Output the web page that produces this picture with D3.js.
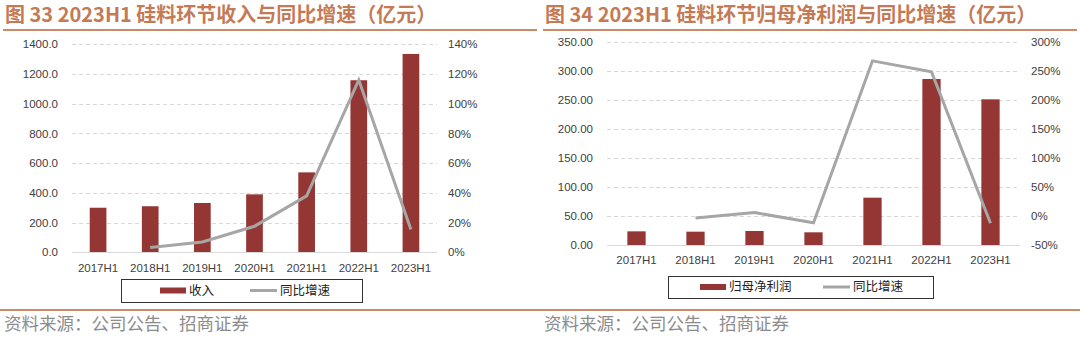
<!DOCTYPE html>
<html>
<head>
<meta charset="utf-8">
<script src="https://cdn.jsdelivr.net/npm/d3@7"></script>
<style>
  html, body { margin: 0; padding: 0; background: #fff; }
  svg { display: block; }
</style>
</head>
<body>
<svg id="chart" width="1080" height="337"></svg>
<script>
// Shared categories
const periods = ["2017H1", "2018H1", "2019H1", "2020H1", "2021H1", "2022H1", "2023H1"];

// Panel 33: revenue (亿元) and YoY growth (%)
const revenue = [300, 310, 332, 390, 538, 1158, 1335];
const revenueGrowth = [null, 3.3, 7.0, 17.5, 38.0, 116.0, 15.3];
const revenueTicks = [0, 200, 400, 600, 800, 1000, 1200, 1400];
const revenueGrowthTicks = [0, 20, 40, 60, 80, 100, 120, 140];

// Panel 34: net profit attributable to parent (亿元) and YoY growth (%)
const netProfit = [23.6, 23.0, 24.2, 21.9, 81.7, 286.6, 251.5];
const profitGrowth = [null, -3.5, 6.0, -11.5, 268.0, 249.0, -12.5];
const profitTicks = [0, 50, 100, 150, 200, 250, 300, 350];
const profitGrowthTicks = [-50, 0, 50, 100, 150, 200, 250, 300];

const BAR = "#943634";
const LINE = "#a6a6a6";
const TITLE = "#c47a55";
const RULE = "#cf8a68";
const GRID = "#d9d9d9";
const TXT = "#404040";
const CJK = "'Noto Sans CJK SC', 'Noto Sans', sans-serif";
const LAT = "'Liberation Sans', Arial, sans-serif";

const svg = d3.select("#chart");

function panel(cfg) {
  const g = svg.append("g");

  // Title and rules
  g.append("text")
    .attr("x", cfg.x0 + 5).attr("y", 22)
    .attr("font-family", CJK).attr("font-weight", 700)
    .attr("font-size", 20).attr("fill", TITLE)
    .text(cfg.title);
  g.append("line")
    .attr("x1", cfg.x0 + 3).attr("x2", cfg.x0 + 537)
    .attr("y1", 30).attr("y2", 30)
    .attr("stroke", RULE).attr("stroke-width", 2);
  g.append("line")
    .attr("x1", cfg.x0).attr("x2", cfg.x0 + 540)
    .attr("y1", 310).attr("y2", 310)
    .attr("stroke", RULE).attr("stroke-width", 2);
  g.append("text")
    .attr("x", cfg.x0 + 4).attr("y", 330)
    .attr("font-family", CJK).attr("font-size", 17.5).attr("fill", "#8c8c8c")
    .text("资料来源：公司公告、招商证券");

  const x = d3.scaleBand().domain(periods).range([cfg.left, cfg.right]);
  const y = d3.scaleLinear().domain(cfg.yDomain).range([cfg.bottom, cfg.top]);
  const y2 = d3.scaleLinear().domain(cfg.y2Domain).range([cfg.bottom, cfg.top]);

  // Dashed gridlines
  g.append("g").selectAll("line")
    .data(cfg.yTicks.filter(t => t !== cfg.yDomain[0]))
    .join("line")
    .attr("x1", cfg.left).attr("x2", cfg.right)
    .attr("y1", d => Math.round(y(d)) + 0.5).attr("y2", d => Math.round(y(d)) + 0.5)
    .attr("stroke", GRID).attr("stroke-width", 1).attr("stroke-dasharray", "4,3");

  // Left axis
  const yAxis = d3.axisLeft(y).tickValues(cfg.yTicks).tickFormat(cfg.yFmt).tickSize(0).tickPadding(0);
  const ga = g.append("g").attr("transform", `translate(${cfg.left - 14},0)`).call(yAxis);
  ga.select(".domain").remove();
  ga.selectAll("text").attr("font-family", LAT).attr("font-size", 11.5).attr("fill", TXT);

  // Right axis
  const y2Axis = d3.axisRight(y2).tickValues(cfg.y2Ticks).tickFormat(d => d + "%").tickSize(0).tickPadding(0);
  const gb = g.append("g").attr("transform", `translate(${cfg.right + 11},0)`).call(y2Axis);
  gb.select(".domain").remove();
  gb.selectAll("text").attr("font-family", LAT).attr("font-size", 11.5).attr("fill", TXT);

  // Bars
  const bw = x.bandwidth() * cfg.barFrac;
  g.append("g").selectAll("rect")
    .data(periods.map((p, i) => ({ p, v: cfg.bars[i] })))
    .join("rect")
    .attr("x", d => x(d.p) + (x.bandwidth() - bw) / 2)
    .attr("width", bw)
    .attr("y", d => y(d.v))
    .attr("height", d => y(cfg.yDomain[0]) - y(d.v))
    .attr("fill", BAR);

  // Baseline
  g.append("line")
    .attr("x1", cfg.left).attr("x2", cfg.right)
    .attr("y1", Math.round(y(cfg.yDomain[0])) + 0.5).attr("y2", Math.round(y(cfg.yDomain[0])) + 0.5)
    .attr("stroke", GRID).attr("stroke-width", 1);

  // X axis labels
  const xAxis = d3.axisBottom(x).tickSize(0).tickPadding(0);
  const gx = g.append("g").attr("transform", `translate(0,${cfg.xLabelY})`).call(xAxis);
  gx.select(".domain").remove();
  gx.selectAll("text").attr("font-family", LAT).attr("font-size", 11.5).attr("fill", TXT).attr("dy", "0.35em");

  // Growth line
  const line = d3.line()
    .defined(d => d.v !== null)
    .x(d => x(d.p) + x.bandwidth() / 2)
    .y(d => y2(d.v));
  g.append("path")
    .datum(periods.map((p, i) => ({ p, v: cfg.growth[i] })))
    .attr("d", line)
    .attr("fill", "none").attr("stroke", LINE).attr("stroke-width", 3)
    .attr("stroke-linejoin", "miter");

  // Legend
  const L = cfg.legend;
  g.append("rect")
    .attr("x", L.x + 0.5).attr("y", L.y + 0.5).attr("width", L.w).attr("height", L.h)
    .attr("fill", "#fff").attr("stroke", "#333").attr("stroke-width", 1);
  const cy = L.y + L.h / 2;
  g.append("rect").attr("x", L.barX).attr("y", cy - 3).attr("width", 26).attr("height", 6).attr("fill", BAR);
  g.append("text").attr("x", L.barX + 29).attr("y", cy).attr("dy", "0.35em")
    .attr("font-family", CJK).attr("font-size", 12.5).attr("fill", "#222").text(cfg.barName);
  g.append("line").attr("x1", L.lineX).attr("x2", L.lineX + 27).attr("y1", cy).attr("y2", cy)
    .attr("stroke", LINE).attr("stroke-width", 3);
  g.append("text").attr("x", L.lineX + 30).attr("y", cy).attr("dy", "0.35em")
    .attr("font-family", CJK).attr("font-size", 12.5).attr("fill", "#222").text("同比增速");
}

panel({
  x0: 0,
  title: "图 33 2023H1 硅料环节收入与同比增速（亿元）",
  left: 72, right: 437, top: 44.3, bottom: 252.3,
  yDomain: [0, 1400], yTicks: revenueTicks, yFmt: d3.format(".1f"),
  y2Domain: [0, 140], y2Ticks: revenueGrowthTicks,
  bars: revenue, growth: revenueGrowth, barFrac: 0.32,
  xLabelY: 268,
  barName: "收入",
  legend: { x: 121, y: 279, w: 241, h: 23, barX: 160, lineX: 250 }
});

panel({
  x0: 540,
  title: "图 34 2023H1 硅料环节归母净利润与同比增速（亿元）",
  left: 607, right: 1020, top: 42.3, bottom: 245,
  yDomain: [0, 350], yTicks: profitTicks, yFmt: d3.format(".2f"),
  y2Domain: [-50, 300], y2Ticks: profitGrowthTicks,
  bars: netProfit, growth: profitGrowth, barFrac: 0.31,
  xLabelY: 260,
  barName: "归母净利润",
  legend: { x: 668, y: 276, w: 265, h: 22, barX: 700, lineX: 823 }
});
</script>
</body>
</html>
